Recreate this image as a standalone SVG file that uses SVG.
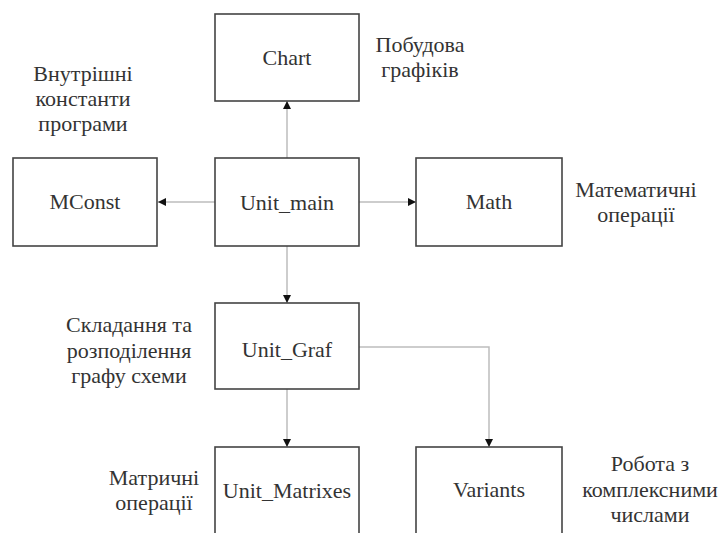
<svg xmlns="http://www.w3.org/2000/svg" width="721" height="533" viewBox="0 0 721 533">
<defs>
<style>
.box{fill:#fff;stroke:#444;stroke-width:1.6}
.t{font-family:'Liberation Serif','Times New Roman',Tinos,'Nimbus Roman','Noto Serif','DejaVu Serif',FreeSerif,serif;font-size:22px;fill:#333;text-anchor:middle}
.c{fill:none;stroke:#bdbdbd;stroke-width:1.5}
</style>
<marker id="ah" markerUnits="userSpaceOnUse" markerWidth="9" markerHeight="9" refX="8" refY="4" orient="auto">
<path d="M0,0 L8,4 L0,8 z" fill="#111"/>
</marker>
</defs>
<rect width="721" height="533" fill="#fff"/>
<g id="connectors">
<path class="c" d="M287,158 V101" marker-end="url(#ah)"/>
<path class="c" d="M215,202 H158" marker-end="url(#ah)"/>
<path class="c" d="M359,202 H416" marker-end="url(#ah)"/>
<path class="c" d="M287,246 V303" marker-end="url(#ah)"/>
<path class="c" d="M287,389 V447" marker-end="url(#ah)"/>
<path class="c" d="M359,347 H489 V447" marker-end="url(#ah)"/>
</g>
<g id="chart"><rect class="box" x="215" y="14" width="144" height="87"/><text class="t" x="287" y="65">Chart</text></g>
<g id="unit_main"><rect class="box" x="215" y="158" width="144" height="88"/><text class="t" x="287" y="210">Unit_main</text></g>
<g id="mconst"><rect class="box" x="13" y="158" width="144" height="88"/><text class="t" x="85" y="209">MConst</text></g>
<g id="math"><rect class="box" x="416" y="158" width="146" height="88"/><text class="t" x="489" y="209">Math</text></g>
<g id="unit_graf"><rect class="box" x="215" y="303" width="144" height="86"/><text class="t" x="287" y="357">Unit_Graf</text></g>
<g id="unit_matrixes"><rect class="box" x="215" y="447" width="144" height="100"/><text class="t" x="287" y="498">Unit_Matrixes</text></g>
<g id="variants"><rect class="box" x="416" y="447" width="146" height="100"/><text class="t" x="489" y="497">Variants</text></g>
<g id="labels">
<text class="t" x="420" y="52">Побудова</text>
<text class="t" x="420" y="77">графіків</text>
<text class="t" x="83" y="81">Внутрішні</text>
<text class="t" x="83" y="106">константи</text>
<text class="t" x="83" y="131">програми</text>
<text class="t" x="636" y="197">Математичні</text>
<text class="t" x="636" y="222">операції</text>
<text class="t" x="129" y="332">Складання та</text>
<text class="t" x="129" y="358">розподілення</text>
<text class="t" x="129" y="383">графу схеми</text>
<text class="t" x="154" y="485">Матричні</text>
<text class="t" x="154" y="510">операції</text>
<text class="t" x="650" y="471">Робота з</text>
<text class="t" x="650" y="497">комплексними</text>
<text class="t" x="650" y="522">числами</text>
</g>
</svg>
